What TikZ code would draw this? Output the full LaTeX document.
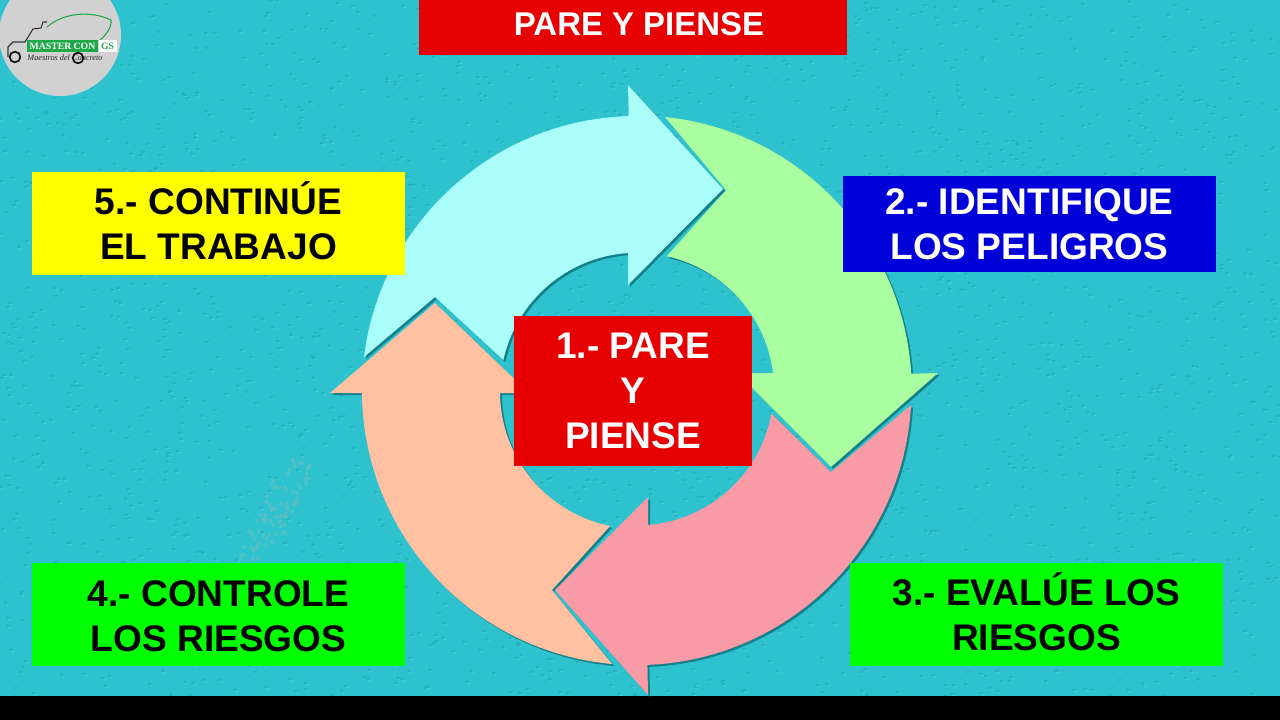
\documentclass[tikz,border=0pt]{standalone}
\usepackage{fontspec}
\setmainfont{Liberation Sans}
\newfontfamily\logofont{Liberation Serif}
\usetikzlibrary{positioning}
\definecolor{wallcyan}{HTML}{2DC2CD}
\definecolor{speckdark}{HTML}{26B2BE}
\definecolor{specklight}{HTML}{3ECCD5}
\definecolor{patchgrey}{HTML}{50C0C4}
\definecolor{shadeteal}{HTML}{14808A}
\definecolor{arrowcyan}{HTML}{ABFFFB}
\definecolor{arrowgreen}{HTML}{AAFFA0}
\definecolor{arrowpink}{HTML}{F89BA6}
\definecolor{arrowpeach}{HTML}{FFC1A2}
\definecolor{boxred}{HTML}{E60000}
\definecolor{boxblue}{HTML}{0000D8}
\definecolor{boxgreen}{HTML}{00FF00}
\definecolor{boxyellow}{HTML}{FFFF00}
\definecolor{logogreen}{HTML}{1FA84A}
% extra room under or over a label, to seat it in its box
\newcommand{\roomunder}[1]{\rule[-#1]{0pt}{0pt}}
\newcommand{\roomover}[1]{\rule{0pt}{#1}}

\begin{document}
\begin{tikzpicture}[x=0.75pt,y=-0.75pt]
		\tikzstyle{ringarrow}=[preaction={fill=shadeteal, transform canvas={xshift=1.5pt, yshift=-1.5pt}}]
		\tikzstyle{box}=[rectangle, align=center, font=\fontsize{27.8}{33.75}\selectfont\bfseries, minimum width=279.75pt]
		\tikzstyle{logotext}=[inner sep=0pt, font=\logofont\bfseries\fontsize{7.3}{8}\selectfont]
		\tikzstyle{wheel}=[circle, draw=black, very thick, fill=none, minimum size=8pt, inner sep=0pt]
		
		\clip (0,0) rectangle (1280,720);
		\fill[wallcyan] (0,0) rectangle (1280,720);
		
		% rough wall
		\pgfmathsetseed{7}
		\foreach \i in {1,...,2800} {
			\pgfmathsetmacro{\px}{random(0,1280)}
			\pgfmathsetmacro{\py}{random(0,700)}
			\fill[speckdark] (\px,\py) ellipse (2 and 1.2);
			\fill[specklight] (\px+1.5,\py+1.5) ellipse (1.8 and 1);
		}
		\foreach \i in {1,...,90} {
			\pgfmathsetmacro{\py}{random(460,560)}
			\pgfmathsetmacro{\px}{300-0.45*(\py-460)+random(-18,18)}
			\fill[patchgrey] (\px,\py) circle (2);
		}
		\fill[black] (0,696) rectangle (1280,720);
		
		% the arrows of the ring
		\fill[arrowpeach, ringarrow] (612,664) arc[start angle=95.2, end angle=179.4, radius=275]
			-- (330,393) -- (435,303) -- (529,393) -- (500,393)
			arc[start angle=179.4, end angle=101.3, radius=137] -- (552,590) -- cycle;
		\fill[arrowpink, ringarrow] (911,405) arc[start angle=3.1, end angle=87.7, radius=275]
			-- (648,695) -- (555,590) -- (648,497) -- (648,525)
			arc[start angle=85.3, end angle=10.6, radius=137] -- (831,472) -- cycle;
		\fill[arrowgreen, ringarrow] (665,117) arc[start angle=275.9, end angle=356.5, radius=275]
			-- (938,373) -- (831,467) -- (737,373) -- (773,373)
			arc[start angle=352.9, end angle=282.5, radius=137] -- (726,190) -- cycle;
		\fill[arrowcyan, ringarrow] (364,357) arc[start angle=187.1, end angle=268.3, radius=275]
			-- (628,85) -- (723,189) -- (628,285) -- (628,253)
			arc[start angle=266.2, end angle=192.5, radius=137] -- (435,297) -- cycle;
		
		% labels
		\node[box, fill=boxred, text=white, minimum width=321pt, minimum height=46.5pt, font=\fontsize{24.7}{30}\selectfont\bfseries] (title) at (633,24) {\hspace*{9pt}PARE Y PIENSE};
		\node[box, fill=boxyellow, text=black, minimum height=77.25pt] (five) at (218.5,223.5) {5.- CONTINÚE\\EL TRABAJO\roomunder{5pt}};
		\node[box, fill=boxblue, text=white, minimum height=72pt] (two) at (1029.5,224) {2.- IDENTIFIQUE\\LOS PELIGROS};
		\node[box, fill=boxgreen, text=black, minimum height=77.25pt] (three) at (1036.5,614.5) {3.- EVALÚE LOS\\RIESGOS\roomunder{5pt}};
		\node[box, fill=boxgreen, text=black, minimum height=77.25pt] (four) at (218.5,614.5) {\roomover{21.5pt}4.- CONTROLE\\LOS RIESGOS};
		\node[box, fill=boxred, text=white, minimum width=178.5pt, minimum height=112.5pt] (one) at (633,391) {1.- PARE\\Y\\PIENSE};
		
		% logo
		\fill[black!18] (60,35) circle (61);
		\draw[logogreen, thick, line cap=round] (47,27) .. controls (63,13) and (90,10) .. (111,20) .. controls (112,28) and (105,36) .. (100,40);
		\draw[black!80, thick] (8,57) -- (8,47) -- (13,42) -- (25,42) -- (33,29) -- (41,28) -- (43,22) -- (47,22);
		\node[fill=logogreen, text=white, logotext, minimum width=53.25pt, minimum height=9pt] (banner) at (62.5,46) {MASTER CON};
		\node[fill=white, text=logogreen, logotext, minimum width=13.5pt, minimum height=9pt, right=0pt of banner] (gs) {GS};
		\node[logotext, font=\logofont\itshape\fontsize{6.2}{7}\selectfont, text=black!85] (motto) at (65,58) {Maestros del Concreto};
		\node[wheel] (wheela) at (15,57) {};
		\node[wheel] (wheelb) at (78,58) {};
\end{tikzpicture}
\end{document}
